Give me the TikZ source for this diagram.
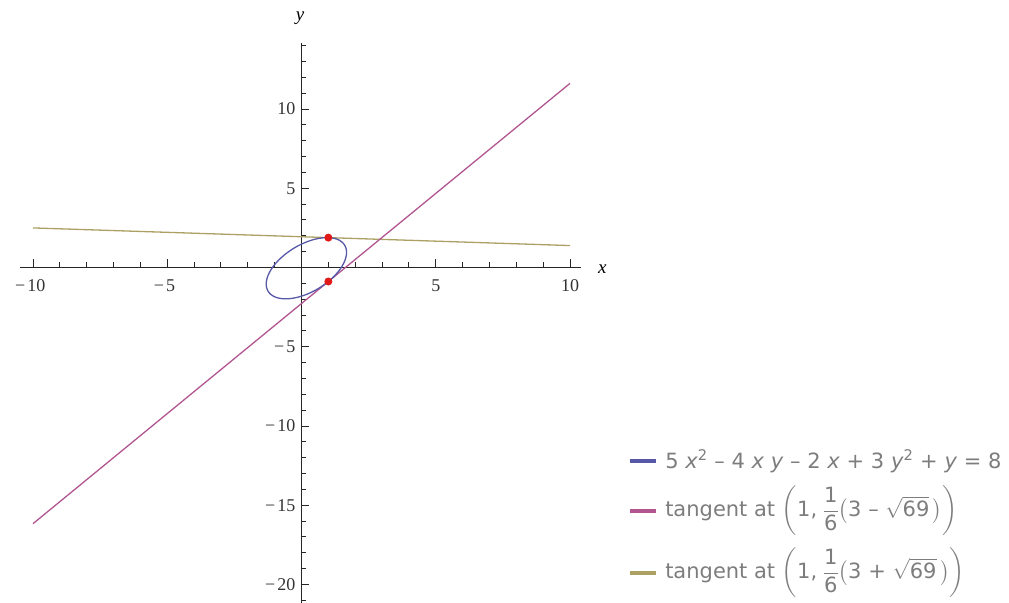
\documentclass[tikz,border=0pt]{standalone}
\usepackage{amsmath}
\usepackage{fontspec}
\setmainfont{Liberation Serif}
\newfontfamily\legfont{DejaVu Sans}
\definecolor{ellcol}{RGB}{88,88,168}
\definecolor{tanlo}{RGB}{178,86,146}
\definecolor{tanhi}{RGB}{172,160,98}
\definecolor{dotred}{RGB}{225,25,25}
\definecolor{legtext}{RGB}{125,125,125}
\tikzset{
  ticklab/.style={font=\fontsize{18}{18}\selectfont, text=black!80, inner sep=0pt},
  axlab/.style={font=\fontsize{19}{19}\selectfont\itshape, inner sep=0pt},
  legline/.style={line width=3.5pt},
  legtxt/.style={anchor=west, font=\legfont\fontsize{21}{24}\selectfont, text=legtext, inner sep=0pt},
}
\newcommand{\vx}{\text{\textit{x}}}
\newcommand{\vy}{\text{\textit{y}}}
\begin{document}
\begin{tikzpicture}[x=26.85pt, y=15.85pt]
\useasboundingbox (-11.229,-21.167) rectangle (26.35,16.877);

% axes
\draw[line width=1.2pt, black!85] (-10.5,0) -- (10.4,0);
\draw[line width=1.2pt, black!85] (0,-21.3) -- (0,14.14);
\node[axlab] (xlab) at (11.2,-0.1) {x};
\node[axlab] (ylab) at (-0.05,15.74) {y};

% ticks
\foreach \i in {-10,...,10} \draw[line width=0.9pt, black!85] (\i,0) -- ++(0,5pt);
\foreach \i in {-10,-5,5,10} \draw[line width=0.9pt, black!85] (\i,0) -- ++(0,8pt);
\foreach \j in {-21,...,14} \draw[line width=0.9pt, black!85] (0,\j) -- ++(5pt,0);
\foreach \j in {-20,-15,-10,-5,5,10} \draw[line width=0.9pt, black!85] (0,\j) -- ++(8pt,0);

% tick labels
\node[ticklab, anchor=north] (xm10) at (-10.1,-0.75) {−\kern2pt10};
\node[ticklab, anchor=north] (xm5)  at (-5.1,-0.75) {−\kern2pt5};
\node[ticklab, anchor=north] (xp5)  at (5,-0.75) {5};
\node[ticklab, anchor=north] (xp10) at (10,-0.75) {10};
\foreach \j/\t in {10/10, 5/5, -5/−\kern2pt5, -10/−\kern2pt10, -15/−\kern2pt15, -20/−\kern2pt20}
  \node[ticklab, anchor=east] (y\j) at ([xshift=-6pt]0,\j) {\t};

% tangents at x = 1
\draw[tanhi, line width=1.3pt] plot[domain=-10:10] (\x, {1.884437-0.055648*(\x-1)});
\draw[tanlo, line width=1.3pt] plot[domain=-10:10] (\x, {-0.884437+1.388982*(\x-1)});

% ellipse 5x^2-4xy-2x+3y^2+y=8
\draw[ellcol, line width=1.3pt, smooth, samples=120, domain=0:360, variable=\t]
  plot ({0.181818+1.133839*cos(\t)-0.975715*sin(\t)}, {-0.045455+1.834590*cos(\t)+0.603025*sin(\t)});

% tangent points
\fill[dotred] (1,1.884437) circle (4pt);
\fill[dotred] (1,-0.884437) circle (4pt);

% legend
\node[legtxt] (leg1) at (13.54,-12.21) {$\text{5 }\vx^{\text{2}}\text{ – 4 }\vx\text{ }\vy\text{ – 2 }\vx\text{ + 3 }\vy^{\text{2}}\text{ + }\vy\text{ = 8}$};
\node[legtxt] (leg2) at (13.54,-15.36) {tangent at $\left(\text{1,}\;\dfrac{\text{1}}{\text{6}}\bigl(\text{3 – }\sqrt{\text{69}}\,\bigr)\right)$};
\node[legtxt] (leg3) at (13.54,-19.27) {tangent at $\left(\text{1,}\;\dfrac{\text{1}}{\text{6}}\bigl(\text{3 + }\sqrt{\text{69}}\,\bigr)\right)$};
\draw[legline, ellcol] ([xshift=-35pt]leg1.west) -- ([xshift=-9pt]leg1.west);
\draw[legline, tanlo] ([xshift=-35pt]leg2.west) -- ([xshift=-9pt]leg2.west);
\draw[legline, tanhi] ([xshift=-35pt]leg3.west) -- ([xshift=-9pt]leg3.west);
\end{tikzpicture}
\end{document}
